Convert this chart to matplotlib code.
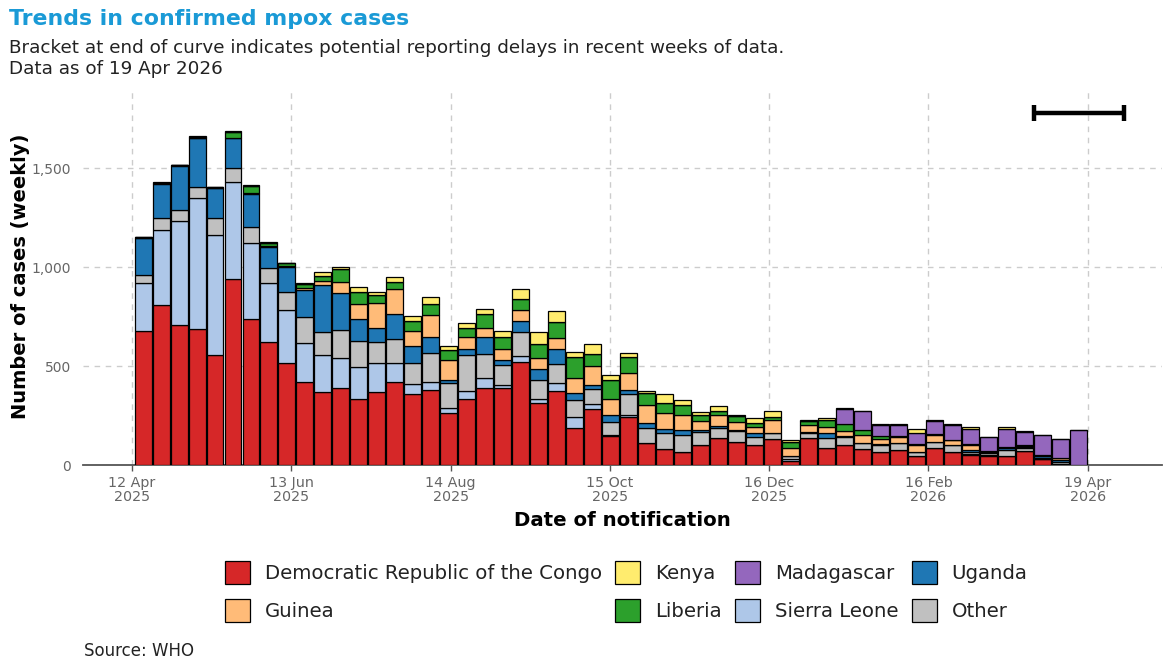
import matplotlib
matplotlib.use("Agg")
import matplotlib.pyplot as plt
import matplotlib.dates as mdates
import numpy as np
import datetime as dt
from matplotlib.ticker import FuncFormatter, FixedLocator

# ---------------- data ----------------
n_weeks = 53
week_starts = [dt.date(2025, 4, 13) + dt.timedelta(days=7 * i) for i in range(n_weeks)]

drc = [678, 808, 707, 687, 556, 938, 736, 623, 514, 418,
       370, 387, 332, 370, 421, 359, 379, 261, 332, 387,
       387, 522, 315, 375, 185, 281, 146, 244, 109, 79,
       67, 101, 135, 118, 101, 130, 20, 135, 84, 101,
       79, 67, 76, 45, 84, 67, 51, 45, 45, 72,
       29, 5, 0]
sierra_leone = [240, 379, 527, 660, 606, 490, 384, 295, 269, 200,
                186, 152, 161, 144, 93, 50, 42, 25, 43, 51,
                17, 29, 17, 38, 59, 27, 5, 10, 0, 0,
                0, 0, 0, 0, 0, 0, 8, 0, 0, 0,
                0, 0, 0, 0, 0, 0, 7, 7, 0, 0,
                0, 0, 0]
other = [42, 59, 54, 59, 87, 70, 84, 75, 92, 128,
         117, 143, 135, 106, 121, 108, 146, 127, 181, 123,
         101, 122, 97, 97, 84, 74, 68, 105, 76, 84,
         85, 67, 50, 55, 42, 30, 17, 28, 51, 42,
         30, 34, 33, 22, 34, 34, 10, 8, 31, 12,
         8, 10, 0]
uganda = [185, 173, 224, 244, 148, 152, 165, 106, 123, 140,
          236, 188, 109, 73, 128, 84, 78, 16, 28, 84,
          25, 54, 54, 76, 37, 22, 34, 20, 29, 17,
          25, 9, 12, 6, 17, 0, 3, 4, 28, 4,
          0, 3, 0, 0, 0, 0, 8, 7, 8, 8,
          7, 10, 0]
guinea = [2, 3, 2, 4, 3, 3, 3, 8, 8, 8,
          22, 56, 76, 124, 124, 77, 113, 101, 61, 45,
          54, 56, 59, 57, 73, 96, 79, 87, 89, 84,
          76, 47, 56, 37, 30, 67, 40, 34, 31, 25,
          43, 29, 34, 34, 34, 25, 25, 0, 5, 5,
          7, 9, 0]
liberia = [3, 3, 3, 5, 4, 28, 37, 14, 12, 20,
           24, 62, 62, 42, 39, 49, 55, 51, 45, 73,
           64, 54, 67, 81, 106, 59, 97, 78, 59, 47,
           50, 29, 20, 30, 24, 17, 26, 22, 33, 34,
           25, 13, 3, 3, 3, 0, 5, 3, 4, 4,
           0, 0, 0]
madagascar = [0] * 39 + [75, 97, 55, 55, 59, 67, 78, 76, 70, 87, 67, 101, 96, 177]
kenya = [0, 2, 0, 3, 1, 7, 5, 7, 4, 6,
         21, 12, 26, 16, 25, 26, 34, 20, 26, 26,
         29, 50, 64, 55, 28, 52, 26, 23, 13, 46,
         25, 16, 25, 9, 25, 30, 12, 4, 12, 8,
         0, 6, 4, 20, 5, 3, 8, 0, 14, 6,
         0, 0, 0]

# stacking order bottom -> top
stack_names = ["Democratic Republic of the Congo", "Sierra Leone", "Other", "Uganda",
               "Guinea", "Liberia", "Madagascar", "Kenya"]
stack_values = [drc, sierra_leone, other, uganda, guinea, liberia, madagascar, kenya]
colors = {
    "Democratic Republic of the Congo": "#d62728",
    "Guinea": "#ffbb78",
    "Kenya": "#ffec6e",
    "Liberia": "#2ca02c",
    "Madagascar": "#9467bd",
    "Sierra Leone": "#aec7e8",
    "Uganda": "#1f77b4",
    "Other": "#c0c0c0",
}
legend_order = ["Democratic Republic of the Congo", "Guinea", "Kenya", "Liberia",
                "Madagascar", "Sierra Leone", "Uganda", "Other"]

tick_dates = ["2025-04-12", "2025-06-13", "2025-08-14", "2025-10-15",
              "2025-12-16", "2026-02-16", "2026-04-19"]
bracket_start = "2026-03-29"
bracket_end = "2026-05-03"
bracket_level = 1780

# ---------------- figure ----------------
fig = plt.figure(figsize=(11.64, 6.63), dpi=100)
ax = fig.add_axes([0.0715, 0.2986, 0.9270, 0.5686])

x = mdates.date2num(week_starts)
bottom = np.zeros(n_weeks)
handles = {}
for name, vals in zip(stack_names, stack_values):
    v = np.array(vals, dtype=float)
    b = ax.bar(x, v, width=6.6, bottom=bottom, align="edge",
               color=colors[name], edgecolor="black", linewidth=0.9, zorder=3,
               label=name)
    handles[name] = b
    bottom += v

# bracket
bx0 = mdates.date2num(dt.date.fromisoformat(bracket_start))
bx1 = mdates.date2num(dt.date.fromisoformat(bracket_end))
ax.plot([bx0, bx1], [bracket_level, bracket_level], color="black", lw=3.2,
        solid_capstyle="butt", zorder=5)
for bx in (bx0, bx1):
    ax.plot([bx, bx], [bracket_level - 40, bracket_level + 40], color="black",
            lw=3.2, solid_capstyle="butt", zorder=5)

# axes limits
ax.set_xlim(mdates.date2num(dt.date(2025, 3, 24)), mdates.date2num(dt.date(2026, 5, 18)))
ax.set_ylim(0, 1904)

tick_nums = [mdates.date2num(dt.date.fromisoformat(d)) for d in tick_dates]
ax.xaxis.set_major_locator(FixedLocator(tick_nums))
ax.set_xticklabels([dt.date.fromisoformat(d).strftime("%-d %b\n%Y") for d in tick_dates])
ax.set_yticks([0, 500, 1000, 1500])
ax.yaxis.set_major_formatter(FuncFormatter(lambda v, p: f"{int(v):,}"))

ax.tick_params(axis="x", colors="#555555", labelsize=10.3, length=4, width=1, pad=4)
ax.tick_params(axis="y", colors="#555555", labelsize=10, length=0, pad=9)
for lab in ax.get_xticklabels() + ax.get_yticklabels():
    lab.set_color("#666666")
for lab in ax.get_xticklabels():
    lab.set_linespacing(1.0)

for s in ["top", "right", "left"]:
    ax.spines[s].set_visible(False)
ax.spines["bottom"].set_color("#555555")
ax.spines["bottom"].set_linewidth(1.3)

ax.grid(True, color="#cccccc", linestyle=(0, (4, 4)), linewidth=1.0, zorder=0)
ax.set_axisbelow(True)

ax.set_xlabel("Date of notification", fontsize=14.2, fontweight="bold", labelpad=5)
ax.set_ylabel("Number of cases (weekly)", fontsize=14, fontweight="bold", labelpad=1)

# titles
fig.text(0.008, 0.972, "Trends in confirmed mpox cases", fontsize=15.8, fontweight="bold",
         color="#1a9ad6", ha="left", va="center")
fig.text(0.008, 0.927, "Bracket at end of curve indicates potential reporting delays in recent weeks of data.",
         fontsize=13.2, color="#222222", ha="left", va="center")
fig.text(0.008, 0.896, "Data as of 19 Apr 2026", fontsize=13.2, color="#222222",
         ha="left", va="center")
fig.text(0.072, 0.018, "Source: WHO", fontsize=12, color="#222222", ha="left", va="center")

# legend
leg = fig.legend([handles[n] for n in legend_order], legend_order, ncol=4,
                 loc="upper center", bbox_to_anchor=(0.538, 0.175), frameon=False,
                 fontsize=14.2, handlelength=1.25, handleheight=1.4, handletextpad=0.75,
                 columnspacing=0.7, labelspacing=0.78, borderpad=0.2)
for t in leg.get_texts():
    t.set_color("#222222")

fig.savefig("out.png", dpi=100)
